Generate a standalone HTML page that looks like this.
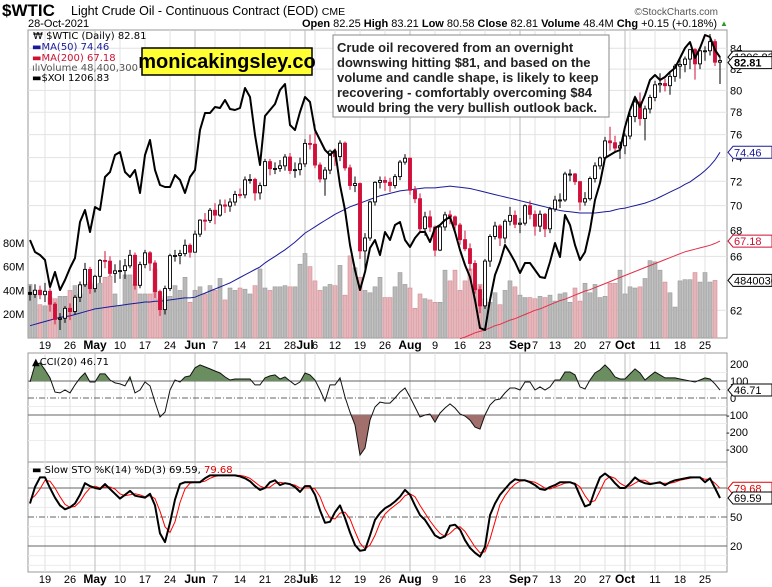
<!DOCTYPE html>
<html><head><meta charset="utf-8"><style>
html,body{margin:0;padding:0;background:#fff;}
svg{display:block;font-family:"Liberation Sans",Arial,sans-serif;}
</style></head><body>
<svg id="chart" width="772" height="587" viewBox="0 0 772 587" xmlns="http://www.w3.org/2000/svg">
<g>
<text x="2" y="16" font-size="17" font-weight="bold">$WTIC</text>
<text x="71" y="15" font-size="12.5">Light Crude Oil - Continuous Contract (EOD) <tspan font-size="10.5">CME</tspan></text>
<text x="28" y="27" font-size="11">28-Oct-2021</text>
<text x="718" y="15" font-size="10" fill="#555" text-anchor="end">©StockCharts.com</text>
<text x="717" y="27" font-size="11" text-anchor="end"><tspan font-weight="bold">Open</tspan> 82.25 <tspan font-weight="bold">High</tspan> 83.21 <tspan font-weight="bold">Low</tspan> 80.58 <tspan font-weight="bold">Close</tspan> 82.81 <tspan font-weight="bold">Volume</tspan> 48.4M <tspan font-weight="bold">Chg</tspan> +0.15 (+0.18%)</text>
<text x="720" y="26" font-size="8" fill="#2a9a2a">▲</text>
</g>
<g id="grid"></g>
<g id="vol"></g>
<g id="main"></g>
<g id="ind"></g>
<g id="labels"></g>
<g>
<rect x="333" y="35" width="276" height="82" fill="#fff" stroke="#888"/>
<text font-size="13" font-weight="bold" fill="#222">
<tspan x="337" y="52">Crude oil recovered from an overnight</tspan>
<tspan x="337" y="67">downswing hitting $81, and based on the</tspan>
<tspan x="337" y="82">volume and candle shape, is likely to keep</tspan>
<tspan x="337" y="97">recovering - comfortably overcoming $84</tspan>
<tspan x="337" y="112">would bring the very bullish outlook back.</tspan>
</text>
</g>
<g>
<rect x="142" y="48" width="170" height="27" fill="#ffff33" stroke="#000" stroke-width="1.5"/>
<text x="227" y="68" font-size="20" font-weight="bold" text-anchor="middle">monicakingsley.co</text>
</g>
<g font-family="DejaVu Sans, sans-serif" font-size="10">
<text x="33" y="39">₩ $WTIC (Daily) 82.81</text>
<text x="32" y="50" fill="#1a1a99">▬MA(50) 74.46</text>
<text x="32" y="61" fill="#cc1133">▬MA(200) 67.18</text>
<text x="32" y="71" fill="#555">ılıVolume 48,400,300</text>
<text x="32" y="81">▬$XOI 1206.83</text>
<text x="32" y="365">▲CCI(20) 46.71</text>
<text x="32" y="473">▬ Slow STO %K(14) %D(3) 69.59, <tspan fill="#e00000">79.68</tspan></text>
</g>
</svg>
<script>
const opens=[63.3,63.15,63.46,63.13,63.38,62.44,61.35,61.43,62.14,61.91,62.94,63.86,65.01,63.58,64.49,65.69,65.63,64.71,64.90,64.92,65.28,66.08,63.82,65.37,66.27,65.49,63.36,62.05,63.58,66.05,66.07,66.21,66.85,66.32,67.72,68.83,68.81,69.62,69.23,70.05,69.96,70.29,70.91,70.88,72.12,72.15,71.04,71.64,73.66,73.06,73.08,73.30,74.05,72.91,72.98,73.47,75.23,75.16,73.37,72.20,72.94,74.56,74.10,75.25,73.13,71.65,71.81,66.42,67.42,70.30,71.91,72.07,71.91,71.65,72.39,73.62,73.95,71.26,70.56,68.15,69.09,68.28,66.48,68.29,69.25,69.09,68.44,67.29,66.59,65.46,63.50,62.32,65.64,67.54,68.36,67.42,68.74,69.21,68.50,68.59,69.99,69.29,68.35,69.30,68.14,69.72,70.45,70.46,72.61,72.61,71.97,70.29,70.56,72.23,73.30,73.98,75.45,75.29,74.83,75.03,75.88,77.62,78.93,77.43,78.30,79.35,80.52,80.64,80.44,81.31,82.28,82.44,82.96,83.87,82.50,83.76,83.76,84.65,82.66];
const closes=[63.15,63.46,63.13,63.38,62.44,61.35,61.43,62.14,61.91,62.94,63.86,65.01,63.58,64.49,65.69,65.63,64.71,64.90,64.92,65.28,66.08,63.82,65.37,66.27,65.49,63.36,62.05,63.58,66.05,66.07,66.21,66.85,66.32,67.72,68.83,68.81,69.62,69.23,70.05,69.96,70.29,70.91,70.88,72.12,72.15,71.04,71.64,73.66,73.06,73.08,73.30,74.05,72.91,72.98,73.47,75.23,75.16,73.37,72.20,72.94,74.56,74.10,75.25,73.13,71.65,71.81,66.42,67.42,70.30,71.91,72.07,71.91,71.65,72.39,73.62,73.95,71.26,70.56,68.15,69.09,68.28,66.48,68.29,69.25,69.09,68.44,67.29,66.59,65.46,63.50,62.32,65.64,67.54,68.36,67.42,68.74,69.21,68.50,68.59,69.99,69.29,68.35,69.30,68.14,69.72,70.45,70.46,72.61,72.61,71.97,70.29,70.56,72.23,73.30,73.98,75.45,75.29,74.83,75.03,75.88,77.62,78.93,77.43,78.30,79.35,80.52,80.64,80.44,81.31,82.28,82.44,82.96,83.87,82.50,83.76,83.76,84.65,82.66,82.81];
const highs=[63.8,63.9,63.8,64.0,63.6,62.6,61.8,62.3,62.5,63.1,64.1,65.5,65.2,64.6,65.8,66.4,66.0,65.4,65.7,65.8,66.5,66.3,65.6,66.5,66.4,65.7,63.5,63.8,66.2,66.5,66.5,67.3,67.0,68.0,68.9,69.4,69.8,70.2,70.5,70.5,70.6,71.2,71.4,72.4,72.6,72.3,71.9,73.9,73.9,73.6,73.8,74.3,74.4,73.6,74.0,75.6,76.0,76.9,73.6,73.2,74.7,74.8,75.5,75.4,73.4,72.4,71.9,67.8,70.4,72.0,72.4,72.4,72.3,72.6,73.8,74.3,74.0,71.6,71.0,69.5,69.6,68.4,68.5,69.5,69.6,69.2,68.6,68.0,67.0,65.7,63.8,65.8,67.7,68.7,68.5,68.9,69.9,69.6,69.0,70.1,70.4,69.6,69.6,69.4,69.9,70.8,71.0,72.8,73.0,72.7,72.0,71.1,72.4,73.6,74.1,75.8,76.7,75.9,75.4,76.1,78.0,79.5,79.8,78.6,79.6,80.9,81.6,81.1,81.6,82.5,83.0,83.2,83.9,84.0,84.0,84.2,85.4,84.9,83.2];
const lows=[62.7,62.9,62.8,62.6,61.9,61.0,60.6,61.1,61.3,61.7,62.6,63.7,63.2,63.3,64.0,65.1,64.5,64.0,64.3,64.3,65.1,63.5,63.6,65.1,64.9,62.9,61.6,61.7,63.4,65.6,65.4,66.0,65.9,66.3,67.5,68.0,68.6,68.5,69.1,69.4,69.5,70.0,70.6,70.6,71.8,70.4,70.5,71.6,72.5,72.6,72.8,72.9,72.6,72.3,72.5,73.2,74.7,73.1,71.9,70.8,72.6,73.3,73.7,72.9,71.3,71.1,65.8,65.0,67.2,70.0,71.4,71.2,71.1,71.4,72.1,73.4,70.9,70.2,67.8,67.6,67.9,66.0,66.4,68.0,68.5,67.9,66.9,66.4,64.9,63.2,61.8,62.1,65.2,67.3,66.8,67.0,68.4,68.2,67.8,68.4,68.9,67.6,67.9,67.5,67.8,69.5,69.8,70.3,72.0,71.7,69.6,70.0,70.4,71.9,73.0,73.8,74.6,74.4,73.9,74.3,75.6,77.1,76.8,75.5,77.9,79.0,79.8,79.9,79.6,80.8,81.1,81.7,82.0,81.0,82.0,82.8,83.3,82.3,80.6];
const volumes=[45,40,28,27,34,33,35,35,40,44,37,45,47,45,46,51,52,37,27,53,53,45,37,37,37,58,33,35,35,44,40,51,30,40,43,37,44,40,50,32,42,40,42,41,37,44,58,42,40,43,43,44,43,43,62,71,60,48,40,43,45,44,61,36,69,59,51,40,38,43,51,34,34,43,55,45,42,25,37,33,32,30,30,57,48,57,40,48,58,42,45,33,30,38,28,40,48,43,36,34,34,33,35,34,36,31,37,38,30,42,31,46,38,45,34,35,46,46,57,37,43,42,43,50,65,64,57,47,38,26,48,49,49,55,47,55,47,48.4];
const ma50=[60.9,61.0,61.1,61.2,61.3,61.4,61.5,61.55,61.6,61.7,61.8,61.9,62.0,62.1,62.15,62.2,62.25,62.3,62.35,62.4,62.45,62.5,62.55,62.6,62.6,62.65,62.65,62.7,62.75,62.8,62.85,62.9,62.9,62.95,63.1,63.25,63.4,63.55,63.7,63.85,64.0,64.2,64.4,64.6,64.8,65.0,65.2,65.5,65.75,66.0,66.25,66.5,66.8,67.1,67.45,67.8,68.05,68.3,68.55,68.8,69.05,69.3,69.5,69.7,69.9,70.05,70.2,70.35,70.5,70.65,70.8,70.9,71.0,71.1,71.2,71.25,71.3,71.35,71.4,71.45,71.45,71.45,71.5,71.55,71.6,71.55,71.5,71.45,71.4,71.3,71.2,71.1,71.0,70.9,70.8,70.7,70.6,70.5,70.4,70.3,70.2,70.1,70.0,69.9,69.8,69.7,69.6,69.55,69.5,69.45,69.4,69.4,69.4,69.4,69.45,69.5,69.55,69.65,69.75,69.8,69.9,70.0,70.1,70.2,70.35,70.5,70.7,70.9,71.1,71.3,71.5,71.75,71.95,72.25,72.55,72.9,73.3,73.8,74.46];
const ma200Start=86;
const ma200=[60.0,60.1,60.25,60.4,60.5,60.6,60.75,60.9,61.0,61.15,61.3,61.4,61.55,61.7,61.85,62.0,62.1,62.25,62.4,62.55,62.7,62.8,62.95,63.1,63.25,63.4,63.5,63.65,63.8,63.95,64.1,64.25,64.4,64.55,64.7,64.85,65.0,65.15,65.3,65.45,65.6,65.75,65.9,66.05,66.2,66.35,66.45,66.55,66.65,66.75,66.85,67.0,67.18];
const xoi=[1024,1012,1009,1004,977,992,974,984,996,1006,1042,1054,1032,1057,1054,1087,1092,1109,1112,1092,1087,1094,1071,1109,1124,1094,1079,1077,1077,1089,1084,1071,1087,1094,1134,1151,1151,1157,1156,1164,1155,1154,1156,1176,1167,1129,1099,1148,1154,1160,1174,1180,1139,1134,1152,1167,1162,1134,1124,1114,1109,1114,1079,1054,1019,994,974,992,1016,1024,1009,1032,1024,1039,1042,1024,1017,1026,1032,1032,1022,1036,1039,1044,1047,1032,1014,999,987,964,936,934,964,989,1002,1019,1011,1002,991,1001,1001,994,987,986,1002,1021,1007,1049,1039,1019,1004,1012,1034,1064,1081,1106,1109,1112,1114,1137,1154,1167,1157,1169,1184,1189,1184,1187,1192,1196,1206,1216,1222,1206,1216,1229,1227,1214,1206.83];
const cci=[94,195,206,165,118,35,30,47,30,77,118,147,94,94,142,142,106,89,83,71,124,30,47,94,71,-24,-112,-83,47,106,94,124,130,177,195,183,171,159,147,124,106,112,112,112,112,77,77,118,130,136,112,124,100,77,94,147,136,106,47,-18,77,77,118,6,-83,-159,-336,-295,-130,-53,-24,-30,-30,0,35,59,6,-53,-112,-100,-94,-142,-89,-59,-35,-59,-94,-106,-130,-171,-183,-100,-41,-12,-6,30,59,59,47,94,94,47,65,47,65,106,106,153,153,136,65,53,106,147,165,195,165,124,112,112,142,171,147,106,130,153,136,118,118,118,112,106,100,94,106,118,112,83,46.71];
const stoK=[64,81,91,91,80,70,62,58,60,64,73,85,82,80,79,84,79,74,69,73,77,72,71,70,74,62,33,24,44,68,84,86,86,86,86,90,93,93,93,93,93,93,92,90,87,82,78,80,86,88,83,85,84,81,76,82,82,73,57,44,45,55,62,49,34,21,15,16,31,47,54,59,62,66,71,78,73,62,52,47,39,31,28,30,41,42,37,26,18,13,9,19,52,64,73,79,85,89,88,88,86,83,79,78,81,83,86,86,86,84,72,61,63,78,91,95,91,85,80,80,85,91,87,85,84,85,86,83,86,88,89,90,91,91,91,86,90,80,69.59];
const stoD=[68,72,79,88,87,80,71,63,60,61,66,74,80,82,80,81,81,79,74,72,73,74,73,71,72,69,56,40,34,45,65,79,85,86,86,87,90,92,93,93,93,93,93,92,90,86,82,80,81,85,86,85,84,83,80,80,80,79,71,58,49,48,54,55,48,35,23,17,21,31,44,53,58,62,66,72,74,71,62,54,46,39,33,30,33,38,40,35,27,19,13,14,27,45,63,72,79,84,87,88,87,86,83,80,79,81,83,85,86,85,81,72,65,67,77,88,92,90,85,82,82,85,88,88,85,85,85,85,85,86,88,89,90,91,91,89,89,85,79.68];
const priceTicks=[84,82,80,78,76,74,72,70,68,66,62];
const volTicks=[80,60,40,20];
const cciTicks=[200,100,0,-100,-200,-300];
const stoTicks=[50,20];
const dateLabels=[[3,"19"],[8,"26"],[13,"May"],[18,"10"],[23,"17"],[28,"24"],[33,"Jun"],[37,"7"],[42,"14"],[47,"21"],[52,"28"],[55,"Jul"],[57,"6"],[61,"12"],[66,"19"],[71,"26"],[76,"Aug"],[81,"9"],[86,"16"],[91,"23"],[98,"Sep"],[101,"7"],[105,"13"],[110,"20"],[115,"27"],[119,"Oct"],[125,"11"],[130,"18"],[135,"25"]];
const weekIdx=[3,8,18,23,28,37,42,47,52,57,61,66,71,81,86,91,96,101,105,110,115,120,125,130,135];
const monthIdx=[13,33,55,76,98,119];

const NS="http://www.w3.org/2000/svg";
const L=28,R=727;
const X=i=>30+5*i;
const yP=p=>48.3+862.7*(Math.log(84)-Math.log(p));
const yV=v=>338-1.19*v;
const yX=v=>1264-v;
const yC=v=>398-0.17*v;
const yS=v=>517-(v-50)*0.967;
function mk(parent,tag,attrs){const e=document.createElementNS(NS,tag);for(const k in attrs)e.setAttribute(k,attrs[k]);document.getElementById(parent).appendChild(e);return e;}
const RED="#d0103a";

// panels
const panels=[[30,338,"price-panel"],[353,462,"cci-panel"],[462,572,"sto-panel"]];
panels.forEach(p=>{const r=mk("grid","rect",{x:L,y:p[0],width:R-L,height:p[1]-p[0],fill:"#fff",stroke:"#999"});

});
// horizontal grids
priceTicks.forEach(t=>{const l=mk("grid","line",{x1:L,x2:R,y1:yP(t),y2:yP(t),stroke:"#e2e2e2"});

});
[150,50,-50,-150,-250].forEach(t=>{const l=mk("grid","line",{x1:L,x2:R,y1:yC(t),y2:yC(t),stroke:"#ececec"});

});
[100,90,70,60,40,30,10,0].forEach(t=>{const l=mk("grid","line",{x1:L,x2:R,y1:yS(t),y2:yS(t),stroke:"#ececec"});

});
// vertical grids
weekIdx.forEach(i=>{panels.forEach(p=>{const l=mk("grid","line",{x1:X(i),x2:X(i),y1:p[0],y2:p[1],stroke:"#e2e2e2"});

});});
monthIdx.forEach(i=>{panels.forEach(p=>{const l=mk("grid","line",{x1:X(i),x2:X(i),y1:p[0],y2:p[1],stroke:"#bbb"});

});});
// indicator reference lines
[[yC(100),"none"],[yC(-100),"none"],[yC(0),"6,2,1,2"]].forEach(a=>{const l=mk("grid","line",{x1:L,x2:R,y1:a[0],y2:a[0],stroke:"#666","stroke-dasharray":a[1]});

});
[[yS(80),"none"],[yS(20),"none"],[yS(50),"6,2,1,2"]].forEach(a=>{const l=mk("grid","line",{x1:L,x2:R,y1:a[0],y2:a[0],stroke:"#666","stroke-dasharray":a[1]});

});

// volume bars
volumes.forEach((v,i)=>{const down=i>0&&closes[i]<closes[i-1];
const b=mk("vol","rect",{x:X(i)-2,y:yV(v),width:4,height:338-yV(v),fill:down?"#e6b5b9":"#b9b9b9",stroke:down?"#d38d94":"#9a9a9a","stroke-width":0.6});

});

// MAs
function poly(parent,pts,attrs,name){const e=mk(parent,"polyline",Object.assign({points:pts.map(p=>p[0].toFixed(1)+","+p[1].toFixed(1)).join(" "),fill:"none"},attrs));return e;}
const m200=poly("main",ma200.map((v,k)=>[X(k+ma200Start),yP(v)]),{stroke:"#e0304a","stroke-width":1});


const m50=poly("main",ma50.map((v,i)=>[X(i),yP(v)]),{stroke:"#1a1a99","stroke-width":1});



// candles
closes.forEach((c,i)=>{const o=opens[i];const red=i>0&&c<closes[i-1];const col=red?RED:"#000";
const w=mk("main","line",{x1:X(i),x2:X(i),y1:yP(highs[i]),y2:yP(lows[i]),stroke:col,"stroke-width":1});


const top=yP(Math.max(o,c)),bot=yP(Math.min(o,c));
const b=mk("main","rect",{x:X(i)-1.5,y:top,width:3,height:Math.max(1,bot-top),fill:c<o?col:"#fff",stroke:col,"stroke-width":0.9});

});

// XOI
const xl=poly("main",xoi.map((v,i)=>[X(i),yX(v)]),{stroke:"#000","stroke-width":2,"stroke-linejoin":"round"});



// CCI fills
const defs=mk("ind","defs",{});
defs.innerHTML='<clipPath id="cUp"><rect x="28" y="353" width="699" height="'+(yC(100)-353)+'"/></clipPath><clipPath id="cDn"><rect x="28" y="'+yC(-100)+'" width="699" height="'+(462-yC(-100))+'"/></clipPath>';
const cpts=cci.map((v,i)=>[X(i),yC(v)]);
const upPts=[[X(0),yC(100)]].concat(cpts).concat([[X(cci.length-1),yC(100)]]);
const fu=mk("ind","polygon",{points:upPts.map(p=>p.join(",")).join(" "),fill:"#6b8e60","clip-path":"url(#cUp)"});


const dnPts=[[X(0),yC(-100)]].concat(cpts).concat([[X(cci.length-1),yC(-100)]]);
const fd=mk("ind","polygon",{points:dnPts.map(p=>p.join(",")).join(" "),fill:"#a2706c","clip-path":"url(#cDn)"});


const cl=poly("ind",cpts,{stroke:"#111","stroke-width":1});


const dl=poly("ind",stoD.map((v,i)=>[X(i),yS(v)]),{stroke:"#ff0000","stroke-width":1});


const kl=poly("ind",stoK.map((v,i)=>[X(i),yS(v)]),{stroke:"#000","stroke-width":2,"stroke-linejoin":"round"});



// axis labels
function txt(x,y,s,attrs,name){const t=mk("labels","text",Object.assign({x:x,y:y,"font-size":11},attrs||{}));t.textContent=s;

return t;}
priceTicks.forEach(t=>txt(730,yP(t)+4,String(t),{},"price-tick-label"));
volTicks.forEach(t=>txt(3,yV(t)+4,t+"M",{},"volume-tick-label"));
cciTicks.forEach(t=>txt(t<0?726:730,yC(t)+4,String(t),{},"cci-tick-label"));
stoTicks.forEach(t=>txt(730,yS(t)+4,String(t),{},"sto-tick-label"));
dateLabels.forEach(d=>{const b=["May","Jun","Jul","Aug","Sep","Oct"].includes(d[1]);
txt(X(d[0]),349,d[1],{"text-anchor":"middle","font-weight":b?"bold":"normal","font-size":b?12:11},"date-axis-label");
txt(X(d[0]),583,d[1],{"text-anchor":"middle","font-weight":b?"bold":"normal","font-size":b?12:11},"date-axis-label");});

// value tags
function tag(y,s,col,bold,name){const p=mk("labels","polygon",{points:`728,${y} 733,${y-6} 772,${y-6} 772,${y+6} 733,${y+6}`,fill:"#fff",stroke:col});


txt(734,y+4,s,{fill:col=="#000"?"#000":col,"font-weight":bold?"bold":"normal"},name);}
tag(yX(xoi[xoi.length-1]),"1206.83","#000",false,"xoi-value-tag");
tag(yP(closes[closes.length-1])+2,"82.81","#000",true,"price-value-tag");
tag(yP(ma50[ma50.length-1]),"74.46","#1a1a99",false,"ma50-value-tag");
tag(yP(ma200[ma200.length-1]),"67.18","#cc1133",false,"ma200-value-tag");
tag(yV(volumes[volumes.length-1]),"4840030","#000",false,"volume-value-tag");
tag(yC(cci[cci.length-1]),"46.71","#000",false,"cci-value-tag");
tag(yS(stoD[stoD.length-1]),"79.68","#e00000",false,"sto-d-value-tag");
tag(yS(stoK[stoK.length-1]),"69.59","#000",false,"sto-k-value-tag");
</script>
</body></html>
